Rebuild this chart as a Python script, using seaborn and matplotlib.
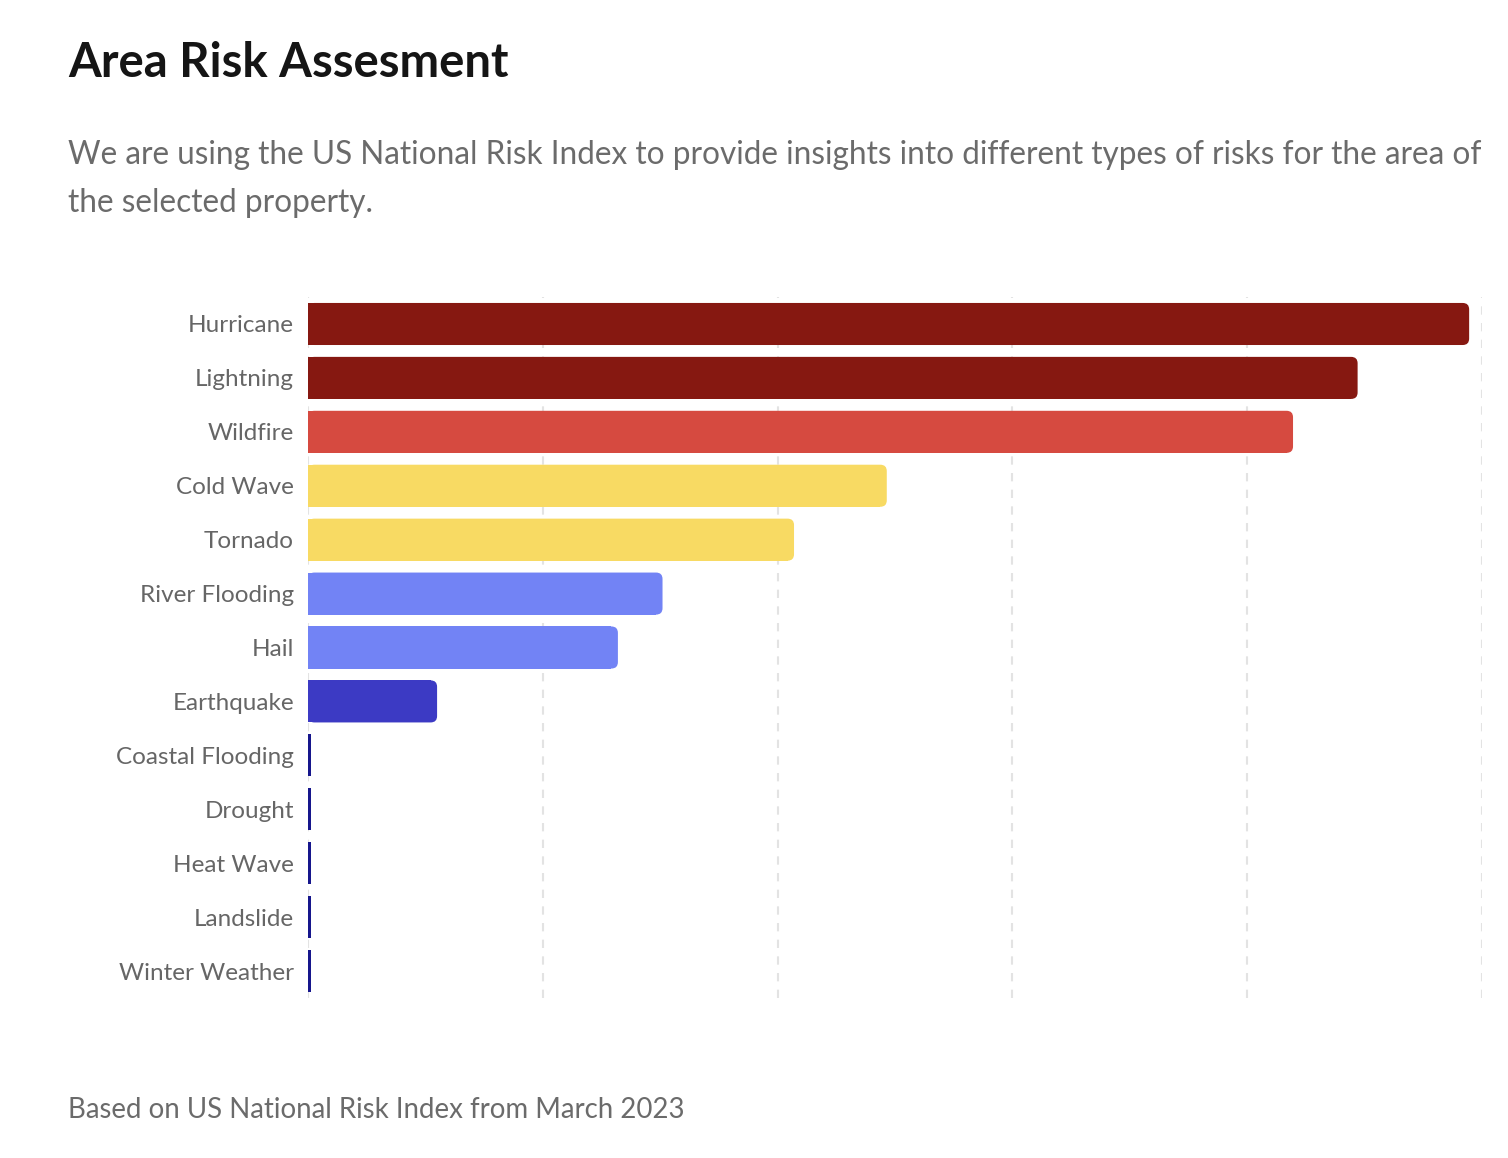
import matplotlib
matplotlib.use("Agg")
import matplotlib.pyplot as plt
from matplotlib.patches import FancyBboxPatch
import seaborn as sns
import pandas as pd

categories = ["Hurricane", "Lightning", "Wildfire", "Cold Wave", "Tornado",
              "River Flooding", "Hail", "Earthquake", "Coastal Flooding",
              "Drought", "Heat Wave", "Landslide", "Winter Weather"]
scores = [98.9, 89.4, 83.9, 49.3, 41.4, 30.2, 26.4, 11.0, 0.3, 0.3, 0.3, 0.3, 0.3]
colors = ["#861811", "#861811", "#D64A40", "#F8DA63", "#F8DA63",
          "#7283F5", "#7283F5", "#3C3AC4", "#16168C", "#16168C",
          "#16168C", "#16168C", "#16168C"]
grid_ticks = [0, 20, 40, 60, 80, 100]

df = pd.DataFrame({"risk": categories, "score": scores})

sns.set_theme(style="white")
plt.rcParams["font.family"] = ["Lato", "DejaVu Sans"]

fig = plt.figure(figsize=(15.08, 11.58), dpi=100)
ax = fig.add_axes([0.2042, 0.1382, 0.7786, 0.6053])

sns.barplot(data=df, x="score", y="risk", hue="risk", palette=colors,
            legend=False, width=0.78, saturation=1, linewidth=0, ax=ax)

# rounded right ends
r = 0.55
for bar, c in zip(ax.patches, colors):
    x, y = bar.get_x(), bar.get_y()
    w, h = bar.get_width(), bar.get_height()
    if w > 2 * r:
        bar.set_width(w - r)
        ax.add_patch(FancyBboxPatch((x, y), w, h,
                                    boxstyle=f"round,pad=0,rounding_size={r}",
                                    mutation_aspect=0.217, fc=c, ec="none",
                                    zorder=bar.get_zorder()))

ax.set_xlim(0, 100)
ax.set_ylim(len(categories) - 0.5, -0.5)
ax.set_xticks(grid_ticks)
ax.set_xticklabels([])
ax.tick_params(axis="x", length=0)
ax.tick_params(axis="y", length=0, pad=10, labelsize=17.5, labelcolor="#666666")
ax.xaxis.grid(True, linestyle=(0, (4, 4)), color="#e3e3e3", linewidth=1.5)
ax.set_axisbelow(True)
for s in ax.spines.values():
    s.set_visible(False)
ax.set_xlabel("")
ax.set_ylabel("")

fig.text(68 / 1508, 1 - 63 / 1158, "Area Risk Assesment", fontsize=34,
         fontweight="bold", color="#151515", va="center", ha="left")
fig.text(68 / 1508, 1 - 155 / 1158,
         "We are using the US National Risk Index to provide insights into different types of risks for the area of",
         fontsize=22.7, color="#6b6b6b", va="center", ha="left")
fig.text(68 / 1508, 1 - 203 / 1158, "the selected property.",
         fontsize=22.7, color="#6b6b6b", va="center", ha="left")
fig.text(68 / 1508, 1 - 1110 / 1158, "Based on US National Risk Index from March 2023",
         fontsize=19.9, color="#6b6b6b", va="center", ha="left")

fig.savefig("out.png", dpi=100)
